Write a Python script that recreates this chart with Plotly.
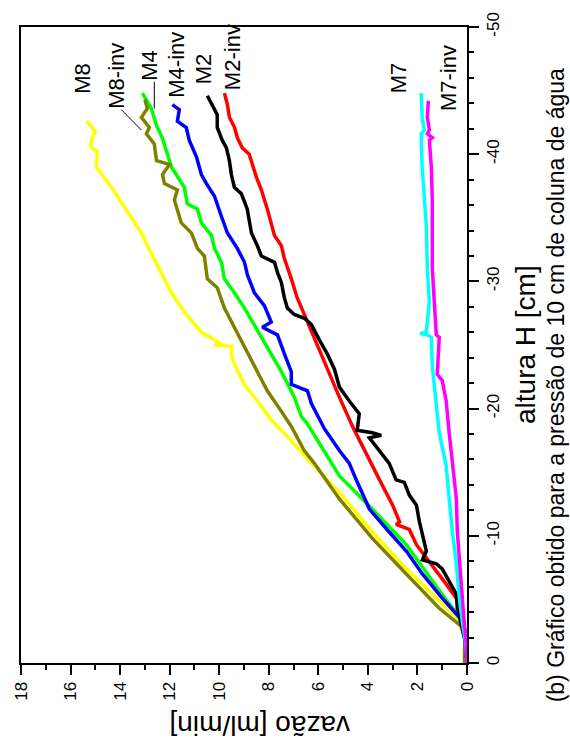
import plotly.graph_objects as go

# ---- data: altura H [cm] (h) and vazão [ml/min] (q) ----
m8_h = [-0.5, -1.8, -3.6, -4.9, -7.4, -10.3, -13.4, -16.3, -17.8, -19.1, -20.6, -21.9, -23.5, -24.3,
        -24.9, -25.0, -25.1, -26.0, -27.6, -29.1, -31.2, -32.8, -33.8, -35.9, -37.4, -39.0, -40.2,
        -40.6, -41.3, -41.8, -42.6]
m8_q = [0.0, 0.03, 0.43, 1.12, 2.45, 3.82, 5.15, 6.56, 7.25, 7.90, 8.46, 8.99, 9.39, 9.51,
        9.50, 10.20, 9.92, 10.72, 11.41, 11.93, 12.50, 12.90, 13.14, 13.83, 14.35, 14.96, 14.92,
        15.20, 15.12, 15.00, 15.35]

m8inv_h = [0.0, -1.0, -2.6, -4.3, -7.0, -9.8, -12.9, -15.7, -16.7, -18.6, -19.8, -21.4, -22.9, -24.5,
           -26.4, -27.9, -29.5, -30.2, -32.0, -32.6, -33.8, -34.6, -36.4, -37.2, -37.7, -38.4, -39.2,
           -39.5, -40.8, -41.6, -42.1, -42.9, -43.6, -44.3]
m8inv_q = [0.1, 0.1, 0.05, 1.12, 2.45, 3.82, 5.15, 6.16, 6.57, 7.09, 7.50, 8.06, 8.46, 8.87,
           9.39, 9.79, 10.08, 10.48, 10.60, 10.88, 11.12, 11.53, 11.81, 11.69, 12.21, 12.29, 12.01,
           12.53, 12.62, 12.94, 12.82, 13.14, 12.90, 13.00]

m4_h = [0.0, -1.5, -3.3, -5.7, -9.3, -12.1, -14.7, -18.3, -18.8, -19.4, -20.9, -22.9, -24.8, -26.6,
        -27.9, -29.1, -30.2, -31.5, -32.6, -33.6, -34.6, -35.7, -36.1, -37.4, -38.2, -39.0, -40.0,
        -41.3, -42.3, -43.6, -44.8]
m4_q = [0.0, 0.05, 0.19, 1.12, 2.45, 3.82, 5.15, 6.28, 6.44, 6.69, 6.97, 7.49, 8.06, 8.58,
        8.98, 9.39, 9.79, 9.91, 10.19, 10.31, 10.72, 10.88, 11.29, 11.41, 11.69, 11.93, 12.09,
        12.30, 12.54, 12.74, 13.10]

m4inv_h = [0.0, -1.5, -3.6, -5.1, -7.0, -8.8, -10.3, -12.1, -14.4, -15.7, -16.7, -18.4, -20.4, -21.4,
           -21.9, -22.9, -24.3, -25.8, -26.4, -26.8, -28.1, -29.1, -30.5, -31.5, -32.6, -33.8, -35.1,
           -36.7, -37.7, -38.4, -39.8, -41.1, -42.1, -42.6, -43.5, -43.9]
m4inv_q = [0.0, 0.05, 0.31, 1.00, 1.80, 2.45, 3.14, 3.94, 4.47, 4.75, 5.15, 5.75, 6.28, 6.44,
           7.09, 7.09, 7.37, 7.65, 8.26, 7.90, 8.18, 8.58, 8.86, 8.98, 9.27, 9.67, 9.91,
           10.19, 10.52, 10.72, 10.92, 11.21, 11.33, 11.69, 11.61, 11.89]

m2_h = [0.0, -1.0, -1.8, -3.9, -4.3, -5.4, -6.4, -7.4, -7.8, -8.1, -8.8, -11.1, -12.4, -13.2, -14.2,
        -14.4, -15.7, -16.7, -17.7, -17.9, -18.1, -18.3, -19.6, -20.6, -21.7, -23.1, -24.3, -25.4,
        -26.6, -27.1, -27.4, -27.9, -28.7, -29.9, -30.7, -31.5, -32.0, -32.8, -33.8, -35.7, -36.9,
        -37.4, -38.4, -39.5, -40.5, -41.1, -42.1, -43.1, -43.8, -44.6]
m2_q = [0.0, 0.05, 0.07, 0.31, 0.39, 0.43, 0.72, 1.00, 1.24, 1.80, 1.64, 1.92, 2.04, 2.33, 2.53,
        2.86, 3.14, 3.54, 3.94, 3.46, 3.82, 4.43, 4.35, 4.75, 5.15, 5.35, 5.64, 5.96,
        6.28, 6.56, 6.97, 7.25, 7.37, 7.49, 7.65, 7.77, 8.30, 8.46, 8.70, 8.87, 9.11,
        9.39, 9.51, 9.59, 9.71, 9.88, 10.08, 10.08, 10.28, 10.48]

m2inv_h = [0.0, -1.5, -4.3, -5.1, -6.2, -7.2, -8.2, -9.3, -10.5, -10.9, -11.1, -12.4, -14.4, -16.5,
           -18.6, -20.9, -23.5, -26.0, -27.4, -28.7, -30.2, -31.8, -32.8, -33.6, -35.7, -37.2, -38.2,
           -39.2, -40.0, -40.5, -41.3, -42.1, -42.9, -43.9, -44.8]
m2inv_q = [0.0, 0.05, 0.19, 0.43, 0.84, 1.24, 1.64, 2.04, 2.33, 2.86, 2.72, 3.00, 3.53, 4.06,
           4.62, 5.15, 5.72, 6.28, 6.56, 6.85, 7.09, 7.37, 7.49, 7.77, 8.06, 8.30, 8.50,
           8.66, 8.79, 9.07, 9.27, 9.38, 9.59, 9.67, 9.79]

m7_h = [0.0, -1.5, -3.3, -5.1, -7.8, -10.3, -12.9, -15.5, -18.1, -20.6, -23.3, -25.6, -25.8, -25.9,
        -26.0, -28.4, -31.0, -34.3, -36.4, -39.0, -41.6, -41.9, -42.9, -44.8]
m7_q = [0.0, 0.05, 0.19, 0.31, 0.43, 0.59, 0.72, 0.84, 1.12, 1.24, 1.40, 1.44, 1.60, 1.90,
        1.64, 1.52, 1.60, 1.64, 1.72, 1.81, 1.85, 1.72, 1.81, 1.85]

m7inv_h = [0.0, -1.5, -3.1, -5.1, -7.8, -10.3, -12.9, -15.5, -18.1, -20.6, -22.2, -22.7, -25.6, -25.8,
           -28.4, -31.0, -34.6, -36.4, -39.0, -41.1, -41.3, -41.6, -41.9, -42.9, -44.2]
m7inv_q = [0.0, 0.03, 0.11, 0.19, 0.31, 0.39, 0.43, 0.59, 0.72, 0.84, 1.00, 1.20, 1.12, 1.24,
           1.32, 1.40, 1.40, 1.40, 1.44, 1.52, 1.40, 1.60, 1.52, 1.60, 1.56]

series_names = ["M8", "M8-inv", "M4", "M4-inv", "M2", "M2-inv", "M7", "M7-inv"]
series_colors = ["#FFFF00", "#808000", "#00FF00", "#0000FF", "#000000", "#FF0000", "#00FFFF", "#FF00FF"]
series_h = [m8_h, m8inv_h, m4_h, m4inv_h, m2_h, m2inv_h, m7_h, m7inv_h]
series_q = [m8_q, m8inv_q, m4_q, m4inv_q, m2_q, m2inv_q, m7_q, m7inv_q]

# label anchor positions (vazão, altura)
label_q = [15.5, 14.15, 12.81, 11.72, 10.60, 9.46, 2.73, 0.72]
label_h = [-46.0, -46.2, -47.0, -47.0, -46.7, -47.6, -46.0, -46.0]

x_ticks = [0, 2, 4, 6, 8, 10, 12, 14, 16, 18]
y_ticks = [0, -10, -20, -30, -40, -50]

FONT = "Arial, Liberation Sans, sans-serif"

fig = go.Figure()
draw_order = [0, 2, 1, 3, 5, 4, 6, 7]
for i in draw_order:
    fig.add_trace(go.Scatter(
        x=series_q[i], y=series_h[i], mode="lines", name=series_names[i],
        line=dict(color=series_colors[i], width=3.5),
    ))

annotations = []
for name, q, h in zip(series_names, label_q, label_h):
    annotations.append(dict(x=q, y=h, xref="x", yref="y", text=name, showarrow=False,
                            textangle=-90, font=dict(family=FONT, size=22, color="black"),
                            xanchor="center", yanchor="middle"))

annotations.append(dict(x=(260 - 21) / 446, y=(663 - 727) / 646, xref="paper", yref="paper",
                        text="vazão [ml/min]", showarrow=False, textangle=180,
                        font=dict(family=FONT, size=28, color="black"),
                        xanchor="center", yanchor="middle"))
annotations.append(dict(x=(525 - 21) / 446, y=(663 - 340) / 646, xref="paper", yref="paper",
                        text="altura H [cm]", showarrow=False, textangle=-90,
                        font=dict(family=FONT, size=28, color="black"),
                        xanchor="center", yanchor="middle"))
annotations.append(dict(x=(556 - 21) / 446, y=(663 - 381) / 646, xref="paper", yref="paper",
                        text="(b) Gráfico obtido para a pressão de 10 cm de coluna de água",
                        showarrow=False, textangle=-90,
                        font=dict(family=FONT, size=23, color="black"),
                        xanchor="center", yanchor="middle"))

shapes = [
    dict(type="line", xref="x", yref="y", x0=13.95, y0=-43.5, x1=13.14, y1=-41.9,
         line=dict(color="black", width=1)),
    dict(type="line", xref="x", yref="y", x0=12.62, y0=-45.7, x1=12.62, y1=-43.6,
         line=dict(color="black", width=1)),
]

axis_common = dict(
    showline=True, linewidth=2, linecolor="black", mirror=True,
    ticks="outside", ticklen=10, tickwidth=1.5, tickcolor="black",
    showgrid=False, zeroline=False, tickangle=-90,
    tickfont=dict(family=FONT, size=17, color="black"),
)

fig.update_layout(
    width=570, height=751,
    margin=dict(l=21, r=103, t=17, b=88),
    paper_bgcolor="white", plot_bgcolor="white",
    showlegend=False,
    annotations=annotations, shapes=shapes,
    xaxis=dict(range=[18, 0], tickvals=x_ticks, ticktext=[str(v) for v in x_ticks],
               minor=dict(dtick=1, ticks="outside", ticklen=5, tickwidth=1.5, tickcolor="black"),
               **axis_common),
    yaxis=dict(range=[0, -50], side="right", tickvals=y_ticks, ticktext=[str(v) for v in y_ticks],
               minor=dict(dtick=2, ticks="outside", ticklen=5, tickwidth=1.5, tickcolor="black"),
               **axis_common),
)

fig.write_html("out.html",
               config={"displayModeBar": False},
               post_script="document.body.style.margin='0px';document.body.style.overflow='hidden';")
